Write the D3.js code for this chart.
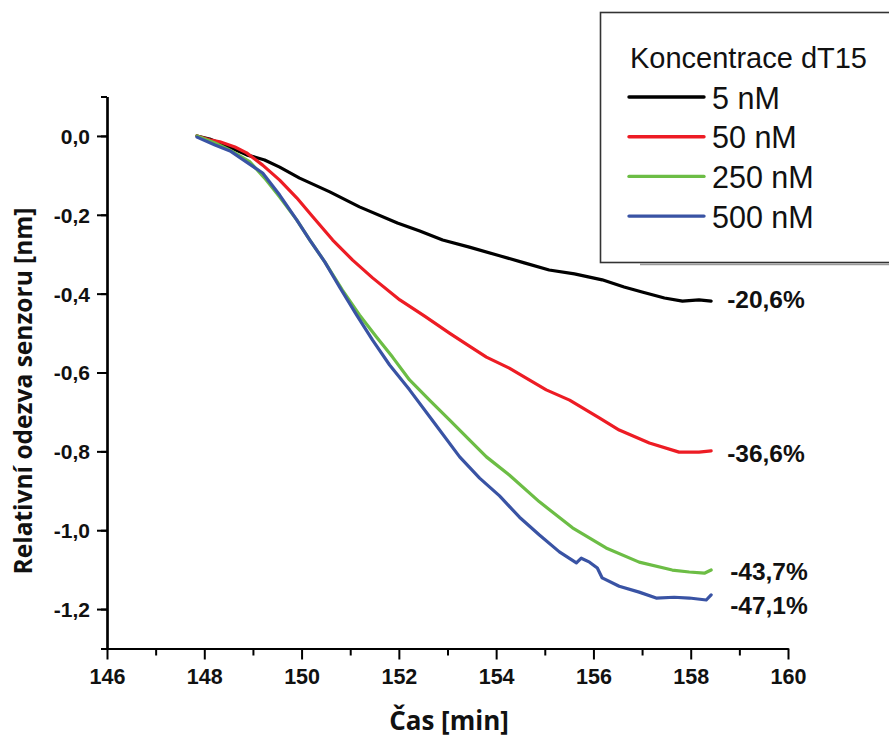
<!DOCTYPE html>
<html>
<head>
<meta charset="utf-8">
<script src="https://cdn.jsdelivr.net/npm/d3@7/dist/d3.min.js"></script>
<style>
  html, body { margin: 0; padding: 0; background: #fff; }
  svg { display: block; }
</style>
</head>
<body>
<svg id="chart" width="889" height="740"></svg>
<script>
// Sensor response over time for four dT15 concentrations: [time (min), response (nm)]
const series5nM = [
  [147.85, 0.000], [148.11, -0.008], [148.42, -0.023], [148.87, -0.048], [149.24, -0.061],
  [149.55, -0.079], [149.96, -0.107], [150.58, -0.142], [151.19, -0.180], [151.97, -0.221],
  [152.43, -0.241], [152.90, -0.264], [153.45, -0.282], [154.07, -0.304], [154.58, -0.322],
  [155.09, -0.340], [155.61, -0.350], [156.18, -0.365], [156.63, -0.383], [157.00, -0.396],
  [157.46, -0.411], [157.83, -0.419], [158.17, -0.416], [158.42, -0.419]
];
const series50nM = [
  [147.85, 0.000], [148.11, -0.010], [148.32, -0.015], [148.63, -0.028], [148.87, -0.043],
  [149.20, -0.074], [149.55, -0.112], [149.90, -0.157], [150.23, -0.205], [150.64, -0.264],
  [151.05, -0.315], [151.46, -0.360], [152.02, -0.416], [152.53, -0.457], [153.04, -0.500],
  [153.45, -0.533], [153.80, -0.561], [154.27, -0.589], [154.68, -0.619], [155.03, -0.644],
  [155.51, -0.670], [156.12, -0.715], [156.53, -0.746], [157.15, -0.779], [157.76, -0.802],
  [158.17, -0.802], [158.42, -0.799]
];
const series250nM = [
  [147.85, 0.000], [148.22, -0.018], [148.53, -0.036], [148.94, -0.066], [149.24, -0.107],
  [149.55, -0.155], [149.90, -0.213], [150.17, -0.264], [150.48, -0.320], [150.84, -0.391],
  [151.19, -0.454], [151.54, -0.510], [151.87, -0.561], [152.22, -0.619], [152.63, -0.670],
  [153.04, -0.720], [153.45, -0.771], [153.80, -0.814], [154.27, -0.860], [154.89, -0.928],
  [155.57, -0.994], [156.26, -1.045], [156.94, -1.081], [157.62, -1.101], [157.97, -1.106],
  [158.28, -1.109], [158.42, -1.101]
];
const series500nM = [
  [147.85, -0.003], [148.22, -0.023], [148.53, -0.038], [149.20, -0.094], [149.55, -0.150],
  [149.90, -0.213], [150.17, -0.264], [150.48, -0.320], [150.78, -0.383], [151.13, -0.454],
  [151.46, -0.518], [151.81, -0.581], [152.22, -0.644], [152.73, -0.728], [153.25, -0.814],
  [153.66, -0.868], [154.07, -0.913], [154.48, -0.967], [154.89, -1.012], [155.30, -1.055],
  [155.65, -1.083], [155.75, -1.071], [155.92, -1.081], [156.08, -1.096], [156.18, -1.121],
  [156.53, -1.142], [156.94, -1.157], [157.29, -1.172], [157.66, -1.170], [157.97, -1.172],
  [158.32, -1.177], [158.42, -1.164]
];

const seriesNames = ["5 nM", "50 nM", "250 nM", "500 nM"];
const seriesColors = ["#000000", "#ed1c24", "#6cbd45", "#3953a4"];
const endLabels = ["-20,6%", "-36,6%", "-43,7%", "-47,1%"];
const legendTitle = "Koncentrace dT15";
const xTicks = [146, 148, 150, 152, 154, 156, 158, 160];
const yTicks = [0, -0.2, -0.4, -0.6, -0.8, -1.0, -1.2];
const xTitle = "Čas [min]";
const yTitle = "Relativní odezva senzoru [nm]";

const allSeries = [series5nM, series50nM, series250nM, series500nM];

const svg = d3.select("#chart");

const x = d3.scaleLinear().domain([146, 160]).range([107, 788]);
const y = d3.scaleLinear().domain([0.1, -1.3]).range([96.5, 648.5]);

const fmt = v => d3.format(".1f")(v).replace(".", ",").replace("−", "-");

// Minor ticks
const xMinor = d3.range(147, 160, 2);
const yMinor = d3.range(1, 14, 2).map(k => +(0.1 - k * 0.1).toFixed(1)).concat([0.1, -1.3]);

const axisG = svg.append("g");

// X axis
const xAxis = axisG.append("g").attr("transform", "translate(0,648.5)");
xAxis.call(d3.axisBottom(x).tickValues(xTicks).tickSize(11).tickSizeOuter(0).tickFormat(d3.format("d")));
xAxis.append("g").call(d3.axisBottom(x).tickValues(xMinor).tickSize(7).tickSizeOuter(0).tickFormat(""));

// Y axis
const yAxis = axisG.append("g").attr("transform", "translate(107,0)");
yAxis.call(d3.axisLeft(y).tickValues(yTicks).tickSize(10).tickSizeOuter(0).tickFormat(fmt));
yAxis.append("g").call(d3.axisLeft(y).tickValues(yMinor).tickSize(6).tickSizeOuter(0).tickFormat(""));

axisG.selectAll(".domain").attr("stroke", "#000").attr("stroke-width", 2.2);
axisG.selectAll(".tick line").attr("stroke", "#000").attr("stroke-width", 2);

xAxis.selectAll(".tick text")
  .attr("font-family", "Liberation Sans, Arial, sans-serif")
  .attr("font-weight", "bold")
  .attr("font-size", 21.5)
  .attr("fill", "#111")
  .attr("dy", "1.0em");

yAxis.selectAll(".tick text")
  .attr("font-family", "Liberation Sans, Arial, sans-serif")
  .attr("font-weight", "bold")
  .attr("font-size", 21)
  .attr("fill", "#111")
  .attr("x", -17)
  .attr("dy", "0.35em");

// Axis titles
svg.append("text")
  .attr("x", 449).attr("y", 730)
  .attr("text-anchor", "middle")
  .attr("font-family", "Open Sans, sans-serif")
  .attr("font-weight", "bold")
  .attr("font-size", 26)
  .attr("fill", "#111")
  .text(xTitle);

svg.append("text")
  .attr("transform", "translate(32,391) rotate(-90)")
  .attr("text-anchor", "middle")
  .attr("font-family", "Open Sans, sans-serif")
  .attr("font-weight", "bold")
  .attr("font-size", 24.5)
  .attr("fill", "#111")
  .text(yTitle);

// Series lines
const line = d3.line().x(d => x(d[0])).y(d => y(d[1]));
const lines = svg.append("g");
allSeries.forEach((s, i) => {
  lines.append("path")
    .datum(s)
    .attr("d", line)
    .attr("fill", "none")
    .attr("stroke", seriesColors[i])
    .attr("stroke-width", 3.2)
    .attr("stroke-linejoin", "round")
    .attr("stroke-linecap", "round");
});

// End-of-run percentage labels
const labelDy = [-2, 2, 1, 11];
allSeries.forEach((s, i) => {
  const last = s[s.length - 1];
  svg.append("text")
    .attr("x", x(last[0]) + (i < 2 ? 16 : 19))
    .attr("y", y(last[1]) + labelDy[i])
    .attr("dy", "0.35em")
    .attr("font-family", "Liberation Sans, Arial, sans-serif")
    .attr("font-weight", "bold")
    .attr("font-size", 24.5)
    .attr("fill", "#111")
    .text(endLabels[i]);
});

// Legend
const legend = svg.append("g");
legend.append("line")
  .attr("x1", 640).attr("x2", 889).attr("y1", 264.5).attr("y2", 264.5)
  .attr("stroke", "#999").attr("stroke-width", 1.5);
legend.append("rect")
  .attr("x", 600.5).attr("y", 12.5).attr("width", 300).attr("height", 250)
  .attr("fill", "#fff").attr("stroke", "#333").attr("stroke-width", 1.6);
legend.append("text")
  .attr("x", 630).attr("y", 58).attr("dy", "0.35em")
  .attr("font-family", "Liberation Sans, Arial, sans-serif")
  .attr("font-size", 29)
  .attr("fill", "#111")
  .text(legendTitle);
seriesNames.forEach((name, i) => {
  const ly = 97 + i * 39.7;
  legend.append("line")
    .attr("x1", 629).attr("x2", 704).attr("y1", ly).attr("y2", ly)
    .attr("stroke", seriesColors[i]).attr("stroke-width", 3.4)
    .attr("stroke-linecap", "round");
  legend.append("text")
    .attr("x", 712).attr("y", ly + 1).attr("dy", "0.35em")
    .attr("font-family", "Liberation Sans, Arial, sans-serif")
    .attr("font-size", 30.5)
    .attr("fill", "#111")
    .text(name);
});
</script>
</body>
</html>
